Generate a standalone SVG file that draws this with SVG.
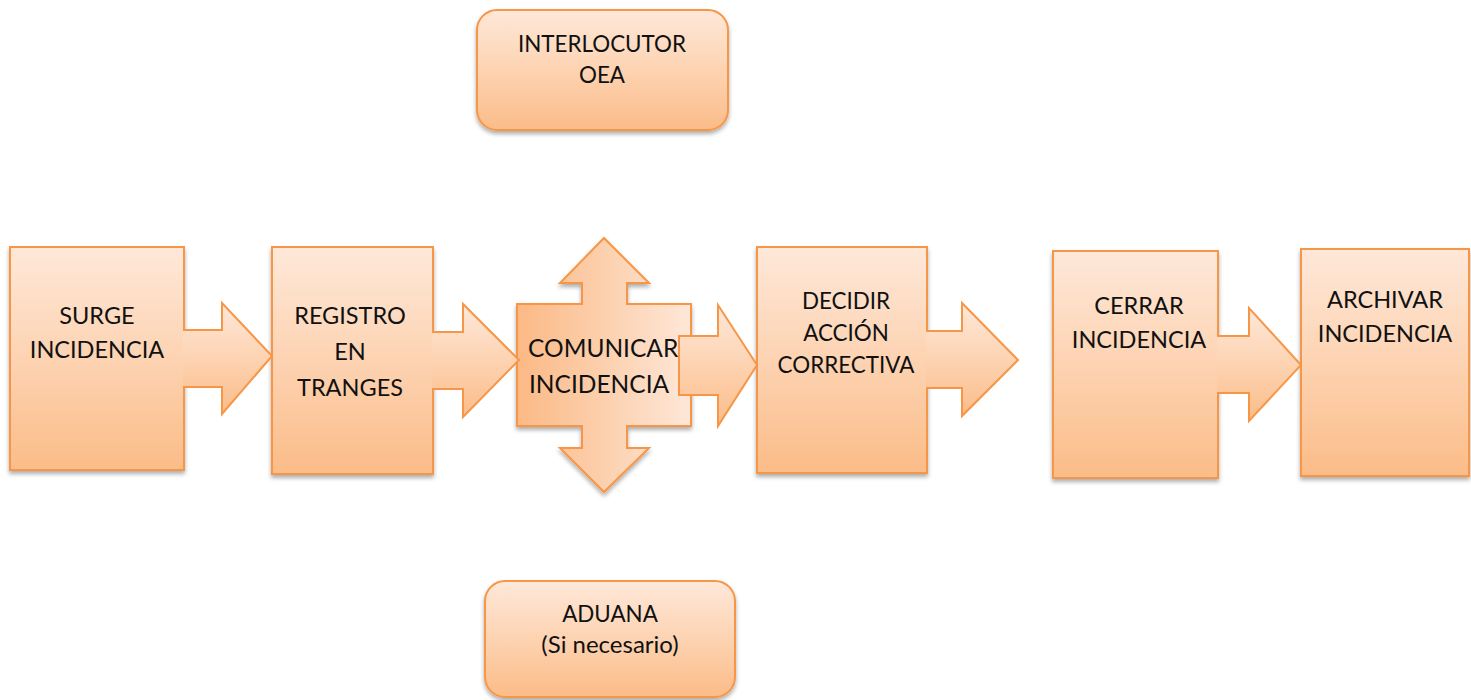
<svg xmlns="http://www.w3.org/2000/svg" width="1471" height="700" viewBox="0 0 1471 700">
<defs>
<linearGradient id="gv" x1="0" y1="0" x2="0" y2="1">
<stop offset="0" stop-color="#fee8d9"/>
<stop offset="0.5" stop-color="#fdd3b2"/>
<stop offset="1" stop-color="#fbbc88"/>
</linearGradient>
<linearGradient id="gh" x1="0" y1="0" x2="1" y2="0">
<stop offset="0" stop-color="#fbb985"/>
<stop offset="0.5" stop-color="#fcd0ae"/>
<stop offset="1" stop-color="#fee7d8"/>
</linearGradient>
<filter id="sh" x="-10%" y="-10%" width="120%" height="125%">
<feDropShadow dx="0" dy="3" stdDeviation="2.2" flood-color="#000" flood-opacity="0.32"/>
</filter>
</defs>
<style>
.b{fill:url(#gv);stroke:#f79646;stroke-width:2;filter:url(#sh)}
.q{fill:url(#gh);stroke:#f79646;stroke-width:2;filter:url(#sh)}
.a{fill:url(#gv);stroke:#f79646;stroke-width:2;stroke-linejoin:miter}
.t{font-family:Lato,"Open Sans","Liberation Sans",sans-serif;fill:#111;font-size:23.5px;text-anchor:middle}
.s{font-size:22.4px}
.l{text-anchor:start;font-size:24.5px}
</style>
<rect width="1471" height="700" fill="#fff"/>
<g id="interlocutor">
<rect class="b" x="477" y="10" width="251" height="120" rx="20"/>
<text class="t s" x="602" y="52">INTERLOCUTOR</text>
<text class="t s" x="602" y="83">OEA</text>
</g>
<g id="aduana">
<rect class="b" x="485" y="581" width="250" height="116" rx="20"/>
<text class="t s" x="610" y="622">ADUANA</text>
<text class="t" x="610" y="653" style="font-size:24px">(Si necesario)</text>
</g>
<g id="surge">
<rect class="b" x="10" y="247" width="174" height="223"/>
<text class="t" x="97" y="324">SURGE</text>
<text class="t" x="97" y="358">INCIDENCIA</text>
</g>
<g id="registro">
<rect class="b" x="272" y="247" width="161" height="227"/>
<text class="t" x="350" y="324">REGISTRO</text>
<text class="t" x="350" y="360">EN</text>
<text class="t" x="350" y="396">TRANGES</text>
</g>
<g id="comunicar">
<path class="q" d="M517,304 L582,304 L582,283 L560,283 L604,238 L649,283 L627,283 L627,304 L691,304 L691,426 L627,426 L627,448 L649,448 L604,492 L560,448 L582,448 L582,426 L517,426 Z"/>
<text class="t l" x="528" y="357">COMUNICAR</text>
<text class="t l" x="529" y="393">INCIDENCIA</text>
</g>
<g id="decidir">
<rect class="b" x="757" y="247" width="170" height="226"/>
<text class="t s" x="846" y="309">DECIDIR</text>
<text class="t s" x="846" y="341">ACCIÓN</text>
<text class="t s" x="846" y="373">CORRECTIVA</text>
</g>
<g id="cerrar">
<rect class="b" x="1053" y="251" width="165" height="227"/>
<text class="t" x="1139" y="314">CERRAR</text>
<text class="t" x="1139" y="348">INCIDENCIA</text>
</g>
<g id="archivar">
<rect class="b" x="1301" y="249" width="168" height="227"/>
<text class="t" x="1385" y="308">ARCHIVAR</text>
<text class="t" x="1385" y="342">INCIDENCIA</text>
</g>
<g id="connectors">
<path class="a" d="M183,330 L222,330 L222,303 L272,356 L222,414 L222,387 L183,387"/>
<path class="a" d="M432,332 L463,332 L463,304 L519,360 L463,417 L463,389 L432,389"/>
<path class="a" d="M679,336 L718,336 L718,305 L757,365 L718,426 L718,395 L679,395 Z"/>
<path class="a" d="M926,331 L962,331 L962,303 L1018,360 L962,416 L962,388 L926,388"/>
<path class="a" d="M1217,336 L1249,336 L1249,308 L1301,365 L1249,421 L1249,393 L1217,393"/>
</g>
</svg>
